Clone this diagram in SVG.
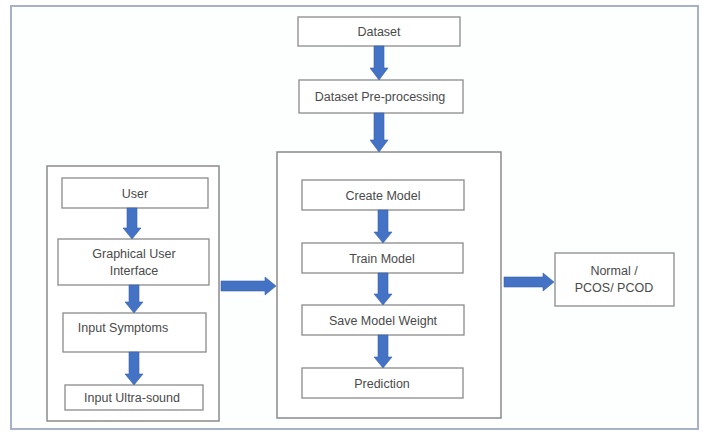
<svg xmlns="http://www.w3.org/2000/svg" width="703" height="433" viewBox="0 0 703 433">
<style>
.box{fill:#ffffff;stroke:#8a8a8a;stroke-width:1.3}
.frame{fill:#ffffff;stroke:#8a8a8a;stroke-width:1.5}
.t{font-family:"Liberation Sans",Arial,sans-serif;font-size:12.5px;fill:#4a4a4a;text-anchor:middle}
.arr{fill:#4472c4;stroke:#3a62ad;stroke-width:0.6}
</style>
<rect x="0" y="0" width="703" height="433" fill="#ffffff"/>
<rect x="11" y="6" width="687" height="423" fill="#fdfefe" stroke="#a9b1c9" stroke-width="2"/>
<g id="dataset"><rect class="box" x="298" y="17" width="162" height="29"/><text class="t" x="379" y="36">Dataset</text></g>
<g id="preprocessing"><rect class="box" x="299" y="80" width="164" height="33"/><text class="t" x="380" y="101">Dataset Pre-processing</text></g>
<g id="user-panel"><rect class="frame" x="47" y="166" width="172" height="255"/></g>
<g id="user"><rect class="box" x="62" y="178" width="146" height="30"/><text class="t" x="135" y="197.5">User</text></g>
<g id="gui"><rect class="box" x="58" y="239" width="151" height="46"/><text class="t" x="134" y="257.5">Graphical User</text><text class="t" x="134" y="274.5">Interface</text></g>
<g id="symptoms"><rect class="box" x="63" y="313" width="143" height="39"/><text class="t" x="123" y="331.5">Input Symptoms</text></g>
<g id="ultrasound"><rect class="box" x="65" y="385" width="138" height="25"/><text class="t" x="132" y="402">Input Ultra-sound</text></g>
<g id="model-panel"><rect class="frame" x="277" y="152" width="224" height="266"/></g>
<g id="create"><rect class="box" x="302" y="180" width="162" height="30"/><text class="t" x="383" y="199.5">Create Model</text></g>
<g id="train"><rect class="box" x="302" y="243" width="161" height="30"/><text class="t" x="382" y="262.5">Train Model</text></g>
<g id="save"><rect class="box" x="302" y="305" width="162" height="30"/><text class="t" x="383" y="324.5">Save Model Weight</text></g>
<g id="prediction"><rect class="box" x="302" y="368" width="161" height="30"/><text class="t" x="382" y="387.5">Prediction</text></g>
<g id="result"><rect class="box" x="555" y="253" width="119" height="53"/><text class="t" x="614" y="275">Normal /</text><text class="t" x="614" y="292">PCOS/ PCOD</text></g>
<g id="connectors">
<polygon class="arr" points="374,46 384,46 384,68 388,68 379,80 370,68 374,68"/>
<polygon class="arr" points="374,113 384,113 384,140 388,140 379,152 370,140 374,140"/>
<polygon class="arr" points="127,208 137,208 137,228 141,228 132,239 123,228 127,228"/>
<polygon class="arr" points="129,285 139,285 139,302 143,302 134,313 125,302 129,302"/>
<polygon class="arr" points="129,352 139,352 139,374 143,374 134,385 125,374 129,374"/>
<polygon class="arr" points="378,210 388,210 388,232 392,232 383,243 374,232 378,232"/>
<polygon class="arr" points="378,273 388,273 388,294 392,294 383,305 374,294 378,294"/>
<polygon class="arr" points="378,335 388,335 388,357 392,357 383,368 374,357 378,357"/>
<polygon class="arr" points="221,281 265,281 265,277 276,286 265,295 265,291 221,291"/>
<polygon class="arr" points="504,277 543,277 543,273 554,282 543,291 543,287 504,287"/>
</g>
</svg>
